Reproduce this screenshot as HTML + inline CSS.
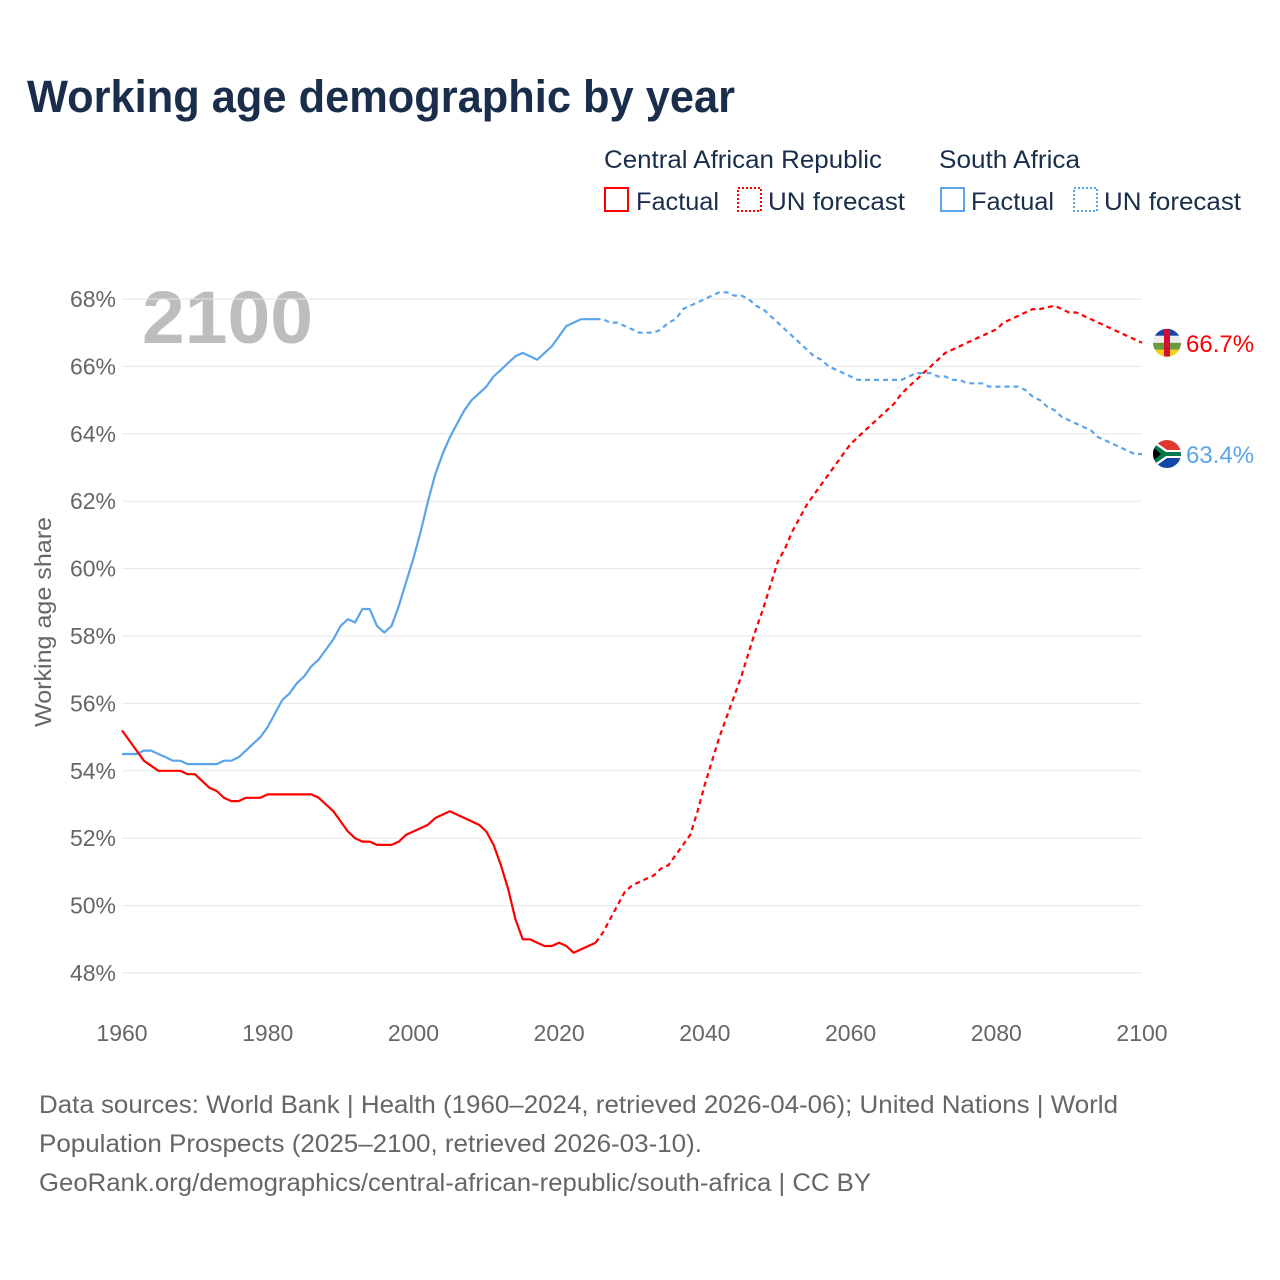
<!DOCTYPE html>
<html><head><meta charset="utf-8"><style>
body{margin:0;background:#fff;font-family:"Liberation Sans",Lato,sans-serif;}
#wrap{position:relative;width:1280px;height:1280px;overflow:hidden;}
</style></head><body>
<div id="wrap">
<svg id="chart" width="1280" height="1280" xmlns="http://www.w3.org/2000/svg">
<text x="27" y="112" font-size="45" font-weight="bold" fill="#1a2e4c" textLength="708" lengthAdjust="spacingAndGlyphs">Working age demographic by year</text>
<g font-size="25" fill="#1a2e4c">
<text x="604" y="168" textLength="278" lengthAdjust="spacingAndGlyphs">Central African Republic</text>
<text x="939" y="168" textLength="141" lengthAdjust="spacingAndGlyphs">South Africa</text>
<rect x="605" y="188" width="23" height="23" fill="none" stroke="#f00" stroke-width="2"/>
<text x="636" y="210" textLength="83" lengthAdjust="spacingAndGlyphs">Factual</text>
<rect x="738" y="188" width="23" height="23" fill="none" stroke="#f00" stroke-width="2" stroke-dasharray="2,2"/>
<text x="768" y="210" textLength="137" lengthAdjust="spacingAndGlyphs">UN forecast</text>
<rect x="941" y="188" width="23" height="23" fill="none" stroke="#5aa5ea" stroke-width="2"/>
<text x="971" y="210" textLength="83" lengthAdjust="spacingAndGlyphs">Factual</text>
<rect x="1074" y="188" width="23" height="23" fill="none" stroke="#5aa5ea" stroke-width="2" stroke-dasharray="2,2"/>
<text x="1104" y="210" textLength="137" lengthAdjust="spacingAndGlyphs">UN forecast</text>
</g>
<text x="142" y="343" font-size="74" font-weight="bold" fill="#bdbdbd" textLength="171" lengthAdjust="spacingAndGlyphs">2100</text>
<text transform="translate(51,622) rotate(-90)" text-anchor="middle" font-size="23" fill="#666" textLength="210" lengthAdjust="spacingAndGlyphs">Working age share</text>
<g id="grid"></g><g id="lines"></g><g id="ends"></g>
<g font-size="25" fill="#666">
<text x="39" y="1113" textLength="1079" lengthAdjust="spacingAndGlyphs">Data sources: World Bank | Health (1960–2024, retrieved 2026-04-06); United Nations | World</text>
<text x="39" y="1152" textLength="663" lengthAdjust="spacingAndGlyphs">Population Prospects (2025–2100, retrieved 2026-03-10).</text>
<text x="39" y="1191" textLength="832" lengthAdjust="spacingAndGlyphs">GeoRank.org/demographics/central-african-republic/south-africa | CC BY</text>
</g>
</svg></div>
<script>
const yTicks=[48,50,52,54,56,58,60,62,64,66,68];
const xTicks=[1960,1980,2000,2020,2040,2060,2080,2100];
const carFactual=[55.2,54.9,54.6,54.3,54.15,54.0,54.0,54.0,54.0,53.9,53.9,53.7,53.5,53.4,53.2,53.1,53.1,53.2,53.2,53.2,53.3,53.3,53.3,53.3,53.3,53.3,53.3,53.2,53.0,52.8,52.5,52.2,52.0,51.9,51.9,51.8,51.8,51.8,51.9,52.1,52.2,52.3,52.4,52.6,52.7,52.8,52.7,52.6,52.5,52.4,52.2,51.8,51.2,50.5,49.6,49.0,49.0,48.9,48.8,48.8,48.9,48.8,48.6,48.7,48.8,48.9];
const carForecast=[48.9,49.2,49.6,50.0,50.4,50.6,50.7,50.8,50.9,51.1,51.2,51.5,51.8,52.1,52.8,53.6,54.3,55.0,55.6,56.2,56.8,57.5,58.2,58.8,59.5,60.2,60.6,61.1,61.5,61.9,62.2,62.5,62.8,63.1,63.4,63.7,63.9,64.1,64.3,64.5,64.7,64.9,65.2,65.4,65.6,65.8,66.0,66.2,66.4,66.5,66.6,66.7,66.8,66.9,67.0,67.1,67.3,67.4,67.5,67.6,67.7,67.7,67.75,67.8,67.7,67.6,67.6,67.5,67.4,67.3,67.2,67.1,67.0,66.9,66.8,66.7];
const zaFactual=[54.5,54.5,54.5,54.6,54.6,54.5,54.4,54.3,54.3,54.2,54.2,54.2,54.2,54.2,54.3,54.3,54.4,54.6,54.8,55.0,55.3,55.7,56.1,56.3,56.6,56.8,57.1,57.3,57.6,57.9,58.3,58.5,58.4,58.8,58.8,58.3,58.1,58.3,58.9,59.6,60.3,61.1,62.0,62.8,63.4,63.9,64.3,64.7,65.0,65.2,65.4,65.7,65.9,66.1,66.3,66.4,66.3,66.2,66.4,66.6,66.9,67.2,67.3,67.4,67.4,67.4];
const zaForecast=[67.4,67.4,67.3,67.3,67.2,67.1,67.0,67.0,67.0,67.1,67.3,67.4,67.7,67.8,67.9,68.0,68.1,68.2,68.2,68.1,68.1,68.0,67.8,67.7,67.5,67.3,67.1,66.9,66.7,66.5,66.3,66.2,66.0,65.9,65.8,65.7,65.6,65.6,65.6,65.6,65.6,65.6,65.6,65.7,65.8,65.8,65.8,65.7,65.7,65.6,65.6,65.5,65.5,65.5,65.4,65.4,65.4,65.4,65.4,65.3,65.1,65.0,64.8,64.7,64.5,64.4,64.3,64.2,64.1,63.9,63.8,63.7,63.6,63.5,63.4,63.4];
const NS='http://www.w3.org/2000/svg';
const X=y=>122+(y-1960)*(1020/140);
const Y=v=>299+(68-v)*33.7;
function mk(t,a,p){const e=document.createElementNS(NS,t);for(const k in a)e.setAttribute(k,a[k]);p.appendChild(e);return e;}
const grid=document.getElementById('grid');
yTicks.forEach(v=>{
 const l=mk('line',{x1:122,x2:1142,y1:Y(v),y2:Y(v),stroke:'#e6e6e6','stroke-width':1},grid);
 
 
 const t=mk('text',{x:116,y:Y(v)+8,'text-anchor':'end','font-size':23,fill:'#666'},grid);
 t.textContent=v+'%';
 
 
});
xTicks.forEach(v=>{
 const t=mk('text',{x:X(v),y:1041,'text-anchor':'middle','font-size':23,fill:'#666'},grid);
 t.textContent=v;
 
 
});
const lines=document.getElementById('lines');
function line(arr,start,color,dash,name){
 const d=arr.map((v,i)=>(i?'L':'M')+X(start+i).toFixed(1)+','+Y(v).toFixed(1)).join('');
 const p=mk('path',{d:d,fill:'none',stroke:color,'stroke-width':2.2,'stroke-linejoin':'round'},lines);
 if(dash)p.setAttribute('stroke-dasharray','5,4');
 
 
}
line(zaFactual,1960,'#5aa5ea',false,'za-factual-line');
line(zaForecast,2025,'#5aa5ea',true,'za-forecast-line');
line(carFactual,1960,'#f00',false,'car-factual-line');
line(carForecast,2025,'#f00',true,'car-forecast-line');
const ends=document.getElementById('ends');
function endLabel(v,color,name,flag){
 const cy=Y(v),cx=1167;
 const g=mk('g',{},ends);
 
 
 mk('clipPath',{id:name+'clip'},g).appendChild(document.createElementNS(NS,'circle'));
 const c=g.querySelector('clipPath circle');c.setAttribute('cx',cx);c.setAttribute('cy',cy);c.setAttribute('r',14);
 const fg=mk('g',{'clip-path':'url(#'+name+'clip)'},g);
 flag(fg,cx,cy);
 const t=mk('text',{x:1186,y:cy+9,'font-size':24,fill:color},ends);
 t.textContent=v.toFixed(1)+'%';
 
 
}
endLabel(carForecast[carForecast.length-1],'#f00','car',(g,cx,cy)=>{
 ['#1447a6','#eee','#6a9a3a','#f7d117'].forEach((c,i)=>mk('rect',{x:cx-14,y:cy-14+i*7,width:28,height:7,fill:c},g));
 mk('rect',{x:cx-3,y:cy-14,width:6,height:28,fill:'#d21034'},g);
});
endLabel(zaForecast[zaForecast.length-1],'#5aa5ea','za',(g,cx,cy)=>{
 mk('rect',{x:cx-14,y:cy-14,width:28,height:14,fill:'#de3831'},g);
 mk('rect',{x:cx-14,y:cy,width:28,height:14,fill:'#1448a8'},g);
 mk('path',{d:`M${cx-14},${cy-14}L${cx},${cy-4}H${cx+14}V${cy+4}H${cx}L${cx-14},${cy+14}Z`,fill:'#fff'},g);
 mk('path',{d:`M${cx-14},${cy-11}L${cx-1},${cy-2}H${cx+14}V${cy+2}H${cx-1}L${cx-14},${cy+11}Z`,fill:'#007a4d'},g);
 mk('path',{d:`M${cx-14},${cy-7}L${cx-6},${cy}L${cx-14},${cy+7}Z`,fill:'#000'},g);
});
</script>
</body></html>
